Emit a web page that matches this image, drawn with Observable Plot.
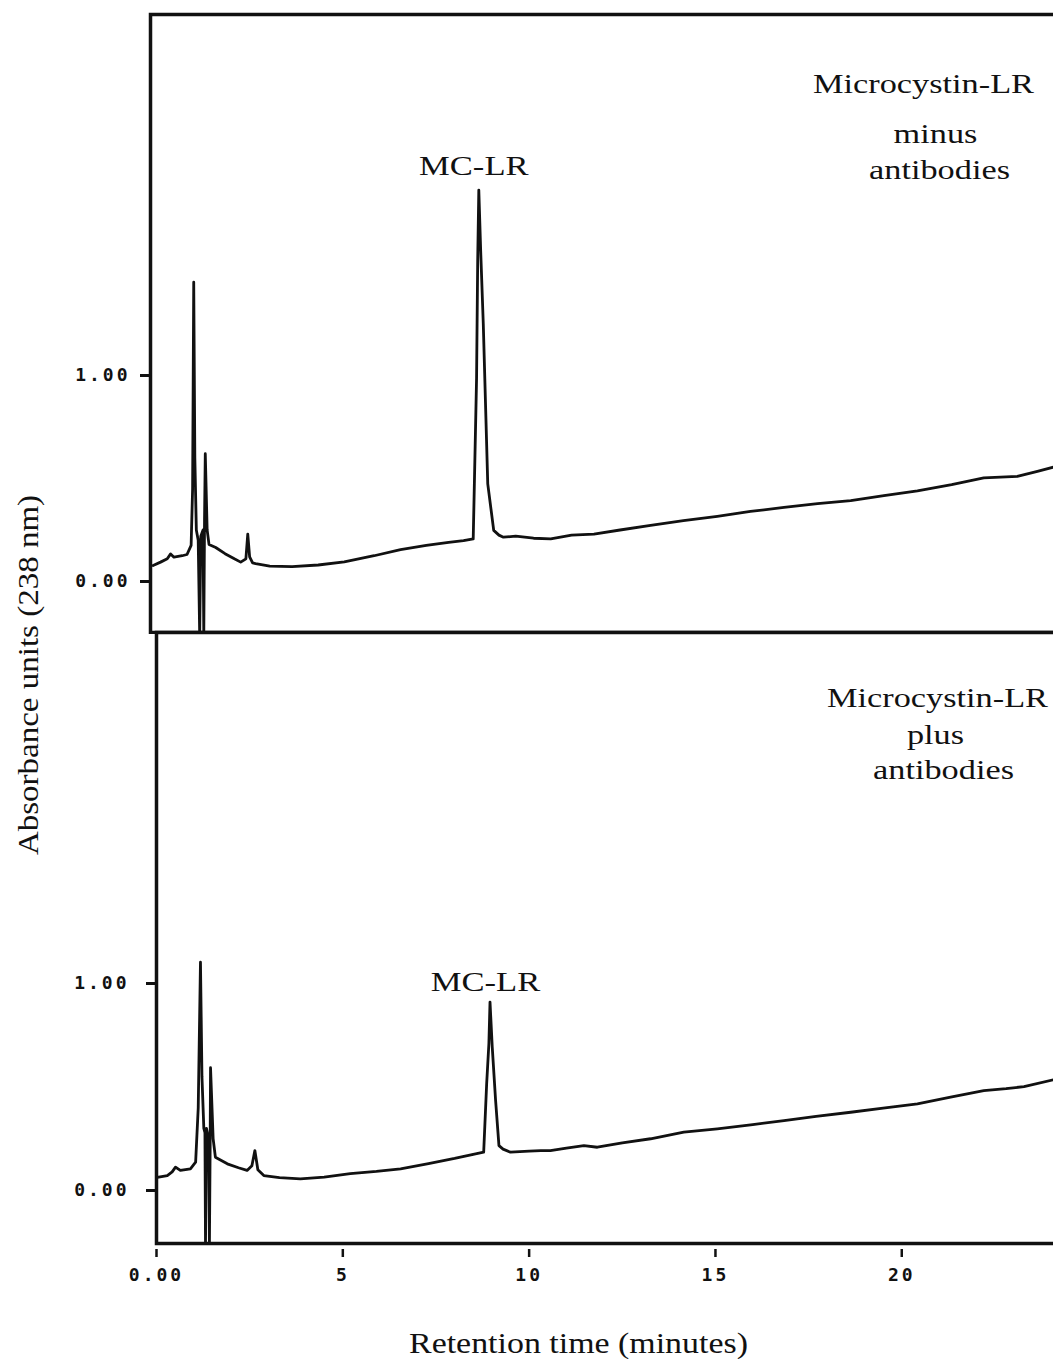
<!DOCTYPE html>
<html>
<head>
<meta charset="utf-8">
<script src="https://cdn.jsdelivr.net/npm/d3@7"></script>
<script src="https://cdn.jsdelivr.net/npm/@observablehq/plot@0.6"></script>
<style>
  html, body { margin: 0; padding: 0; background: #fff; }
  #fig { position: relative; width: 1053px; height: 1359px; overflow: hidden; background: #fff; }
  #fig svg.panel { position: absolute; left: 0; }
  #ytitle {
    position: absolute; left: 28px; top: 675px;
    transform: translate(-50%, -50%) rotate(-90deg) scale(1.1, 1);
    font: 30px "Liberation Serif", serif; color: #111; white-space: nowrap;
  }
  g[aria-label$="tick label"] text { letter-spacing: 3px; }
</style>
</head>
<body>
<div id="fig"><div id="ytitle">Absorbance units (238 nm)</div></div>
<script>
// Chromatogram of microcystin-LR without antibodies: retention time (min), absorbance (AU, 238 nm)
const topTime = [0.07, 0.27, 0.45, 0.54, 0.63, 0.85, 0.98, 1.09, 1.13, 1.16, 1.19, 1.23, 1.28, 1.32, 1.35, 1.41, 1.43, 1.45, 1.47, 1.52, 1.57, 1.75, 2.0, 2.25, 2.42, 2.56, 2.61, 2.66, 2.74, 2.82, 3.2, 3.8, 4.5, 5.2, 6.0, 6.71, 7.4, 8.0, 8.4, 8.66, 8.75, 8.78, 8.81, 8.86, 8.93, 9.05, 9.21, 9.35, 9.47, 9.8, 10.28, 10.74, 11.3, 11.9, 12.6, 13.42, 14.3, 15.21, 16.1, 17.0, 17.9, 18.79, 19.68, 20.58, 21.5, 22.36, 23.26, 23.8, 24.23];
const topAbs = [0.078, 0.094, 0.11, 0.134, 0.118, 0.125, 0.131, 0.175, 0.45, 1.453, 0.60, 0.25, 0.20, -0.26, 0.22, 0.25, -0.26, 0.30, 0.62, 0.25, 0.18, 0.165, 0.135, 0.11, 0.094, 0.11, 0.23, 0.12, 0.09, 0.087, 0.075, 0.072, 0.08, 0.095, 0.125, 0.155, 0.175, 0.19, 0.198, 0.207, 0.987, 1.556, 1.90, 1.607, 1.251, 0.474, 0.248, 0.225, 0.215, 0.22, 0.21, 0.207, 0.225, 0.23, 0.25, 0.272, 0.295, 0.316, 0.34, 0.36, 0.378, 0.393, 0.417, 0.44, 0.47, 0.503, 0.51, 0.535, 0.555];

// Chromatogram of microcystin-LR with antibodies
const bottomTime = [0.02, 0.29, 0.42, 0.51, 0.64, 0.91, 1.05, 1.12, 1.18, 1.22, 1.27, 1.30, 1.315, 1.34, 1.40, 1.42, 1.44, 1.45, 1.52, 1.58, 1.90, 2.20, 2.43, 2.56, 2.64, 2.72, 2.88, 3.3, 3.86, 4.5, 5.2, 5.9, 6.55, 7.3, 8.0, 8.5, 8.78, 8.86, 8.92, 8.95, 9.01, 9.10, 9.19, 9.30, 9.50, 10.0, 10.31, 10.57, 11.0, 11.47, 11.83, 12.5, 13.26, 14.15, 15.05, 16.0, 16.84, 17.7, 18.63, 19.5, 20.42, 21.31, 22.20, 22.8, 23.28, 24.07];
const bottomAbs = [0.064, 0.072, 0.09, 0.113, 0.097, 0.105, 0.137, 0.40, 1.103, 0.55, 0.30, 0.28, -0.26, 0.30, 0.25, -0.26, 0.22, 0.593, 0.25, 0.161, 0.129, 0.11, 0.097, 0.12, 0.193, 0.10, 0.072, 0.062, 0.056, 0.065, 0.082, 0.092, 0.105, 0.13, 0.155, 0.175, 0.185, 0.516, 0.71, 0.91, 0.693, 0.435, 0.217, 0.20, 0.185, 0.19, 0.193, 0.193, 0.205, 0.217, 0.209, 0.23, 0.25, 0.282, 0.298, 0.318, 0.338, 0.358, 0.378, 0.398, 0.419, 0.451, 0.483, 0.492, 0.502, 0.535];

const xTicks = [0, 5, 10, 15, 20];
const yTicks = [0, 1];
const peakName = "MC-LR";
const topNote = ["Microcystin-LR", "minus", "antibodies"];
const bottomNote = ["Microcystin-LR", "plus", "antibodies"];
const xTitle = "Retention time (minutes)";

const ink = "#111";
const serif = "Liberation Serif";
const tickFont = {fontSize: 18, fontFamily: "DejaVu Sans Mono", fontWeight: "bold", fill: ink};

// apex of the toxin peak, past the solvent front
function apex(t, v, after) {
  let best = -1;
  t.forEach((ti, i) => { if (ti >= after && (best < 0 || v[i] > v[best])) best = i; });
  return {t: t[best], v: v[best]};
}

// horizontal widening of the serif annotations, keyed by their text
const widen = new Map([
  ...topNote.map((s) => [s, 1.27]),
  ...bottomNote.map((s) => [s, 1.27]),
  [peakName, 1.28],
  [xTitle, 1.13]
]);
function stretchText(svg) {
  svg.querySelectorAll("text").forEach((el) => {
    const f = widen.get(el.textContent);
    if (!f) return;
    const w = el.getComputedTextLength();
    el.setAttribute("textLength", w * f);
    el.setAttribute("lengthAdjust", "spacingAndGlyphs");
  });
}

function noteMarks(lines, dxs, dys) {
  return lines.map((s, i) => Plot.text([s], {
    frameAnchor: "top-right", text: (d) => d, textAnchor: "middle", lineAnchor: "bottom",
    dx: dxs[i], dy: dys[i], fontSize: 27, fontFamily: serif, fill: ink
  }));
}

const topPeak = apex(topTime, topAbs, 5);
const bottomPeak = apex(bottomTime, bottomAbs, 5);

const topPlot = Plot.plot({
  width: 1053, height: 634,
  marginTop: 14, marginBottom: 2, marginLeft: 150, marginRight: -10,
  x: {domain: [0, 24.5], axis: null},
  y: {domain: [-0.2476, 2.7524], axis: null},
  style: {background: "transparent"},
  marks: [
    Plot.frame({stroke: ink, strokeWidth: 3.5}),
    Plot.axisY({ticks: yTicks, tickFormat: d3.format(".2f"), tickSize: 10, tickPadding: 10, strokeWidth: 3, stroke: ink, label: null, ...tickFont}),
    Plot.line(topAbs, {x: topTime, y: topAbs, stroke: ink, strokeWidth: 2.8, strokeLinejoin: "round", clip: true}),
    Plot.text([topPeak], {x: "t", y: "v", text: () => peakName, lineAnchor: "bottom", dx: -5, dy: -14.6, fontSize: 27, fontFamily: serif, fill: ink}),
    ...noteMarks(topNote, [-140, -128, -124], [78.3, 128.7, 164.3])
  ]
});

const bottomPlot = Plot.plot({
  width: 1053, height: 729,
  marginTop: 2, marginBottom: 116, marginLeft: 156, marginRight: -10,
  x: {domain: [0, 24.34]},
  y: {domain: [-0.256, 2.6957], axis: null},
  style: {background: "transparent"},
  marks: [
    Plot.frame({stroke: ink, strokeWidth: 3.5}),
    Plot.axisY({ticks: yTicks, tickFormat: d3.format(".2f"), tickSize: 10, tickPadding: 17, strokeWidth: 3, stroke: ink, label: null, ...tickFont}),
    Plot.axisX({ticks: xTicks, tickFormat: (d) => (d === 0 ? "0.00" : `${d}`), tickSize: 8, dy: 6, tickPadding: 11, strokeWidth: 2.5, stroke: ink, label: null, ...tickFont}),
    Plot.line(bottomAbs, {x: bottomTime, y: bottomAbs, stroke: ink, strokeWidth: 2.8, strokeLinejoin: "round", clip: true}),
    Plot.text([bottomPeak], {x: "t", y: "v", text: () => peakName, lineAnchor: "bottom", dx: -4.5, dy: -11.6, fontSize: 27, fontFamily: serif, fill: ink}),
    ...noteMarks(bottomNote, [-126, -128, -120], [74.7, 111, 146]),
    Plot.text([xTitle], {frameAnchor: "bottom", text: (d) => d, lineAnchor: "bottom", dx: -31.5, dy: 109, fontSize: 30, fontFamily: serif, fill: ink})
  ]
});

const fig = document.getElementById("fig");
topPlot.classList.add("panel");
topPlot.style.top = "0px";
bottomPlot.classList.add("panel");
bottomPlot.style.top = "630px";
fig.appendChild(topPlot);
fig.appendChild(bottomPlot);

stretchText(topPlot);
stretchText(bottomPlot);
</script>
</body>
</html>
